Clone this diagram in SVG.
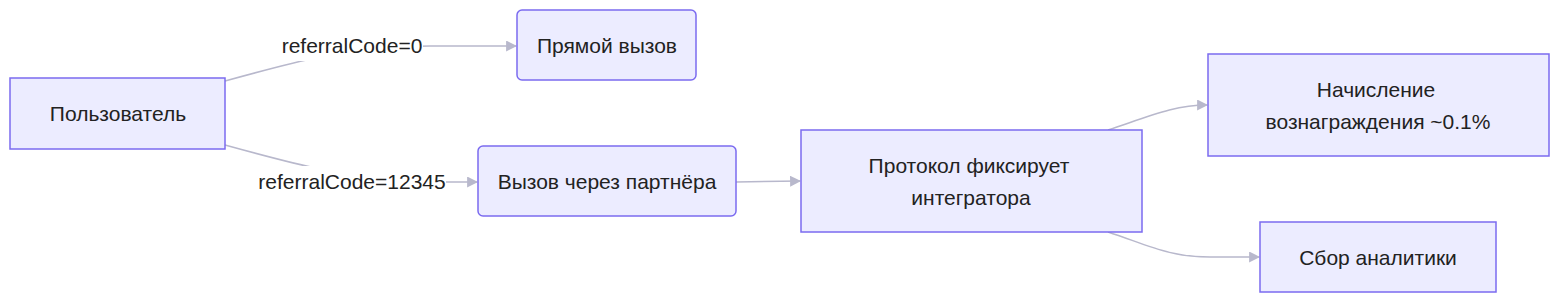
<svg xmlns="http://www.w3.org/2000/svg" width="1560" height="303" viewBox="0 0 1560 303">
<style>
.node{fill:#ECECFF;stroke:#7B6BF0;stroke-width:1.5}
.t{font-family:"Liberation Sans",Arial,sans-serif;font-size:21px;fill:#222;text-anchor:middle;dominant-baseline:central}
.e{fill:none;stroke:#B8B8CC;stroke-width:1.5}
.lb{fill:#FFFFFF}
</style>
<defs>
<marker id="arr" viewBox="0 0 10 10" refX="9" refY="5" markerWidth="11" markerHeight="11" markerUnits="userSpaceOnUse" orient="auto">
<path d="M0,0 L10,5 L0,10 z" fill="#B8B8CC"/>
</marker>
</defs>
<rect width="1560" height="303" fill="#FFFFFF"/>
<g id="edges">
<path class="e" d="M225,81 C265,70 295,62 320,57 S400,46 430,46 L516,46" marker-end="url(#arr)"/>
<path class="e" d="M225,145 C265,156 295,164 320,169 S400,182 440,182 L477,182" marker-end="url(#arr)"/>
<path class="e" d="M736,182 L800,181" marker-end="url(#arr)"/>
<path class="e" d="M1108,130 C1150,116 1175,105 1207,105" marker-end="url(#arr)"/>
<path class="e" d="M1108,232 C1150,246 1170,257 1210,257 L1259,257" marker-end="url(#arr)"/>
<rect class="lb" x="281" y="30" width="142" height="31"/>
<text class="t" x="352" y="45">referralCode=0</text>
<rect class="lb" x="257" y="166" width="189" height="31"/>
<text class="t" x="352" y="181">referralCode=12345</text>
</g>
<g id="user">
<rect class="node" x="10" y="78" width="215" height="71"/>
<text class="t" x="118" y="113">Пользователь</text>
</g>
<g id="direct">
<rect class="node" x="517" y="10" width="179" height="70" rx="5"/>
<text class="t" x="607" y="45">Прямой вызов</text>
</g>
<g id="partner">
<rect class="node" x="478" y="146" width="258" height="70" rx="5"/>
<text class="t" x="607" y="181">Вызов через партнёра</text>
</g>
<g id="protocol">
<rect class="node" x="801" y="130" width="341" height="102"/>
<text class="t" x="969" y="165">Протокол фиксирует</text>
<text class="t" x="971" y="197">интегратора</text>
</g>
<g id="reward">
<rect class="node" x="1208" y="54" width="341" height="102"/>
<text class="t" x="1376" y="89">Начисление</text>
<text class="t" x="1378" y="121">вознаграждения ~0.1%</text>
</g>
<g id="analytics">
<rect class="node" x="1260" y="222" width="236" height="70"/>
<text class="t" x="1378" y="257">Сбор аналитики</text>
</g>
</svg>
